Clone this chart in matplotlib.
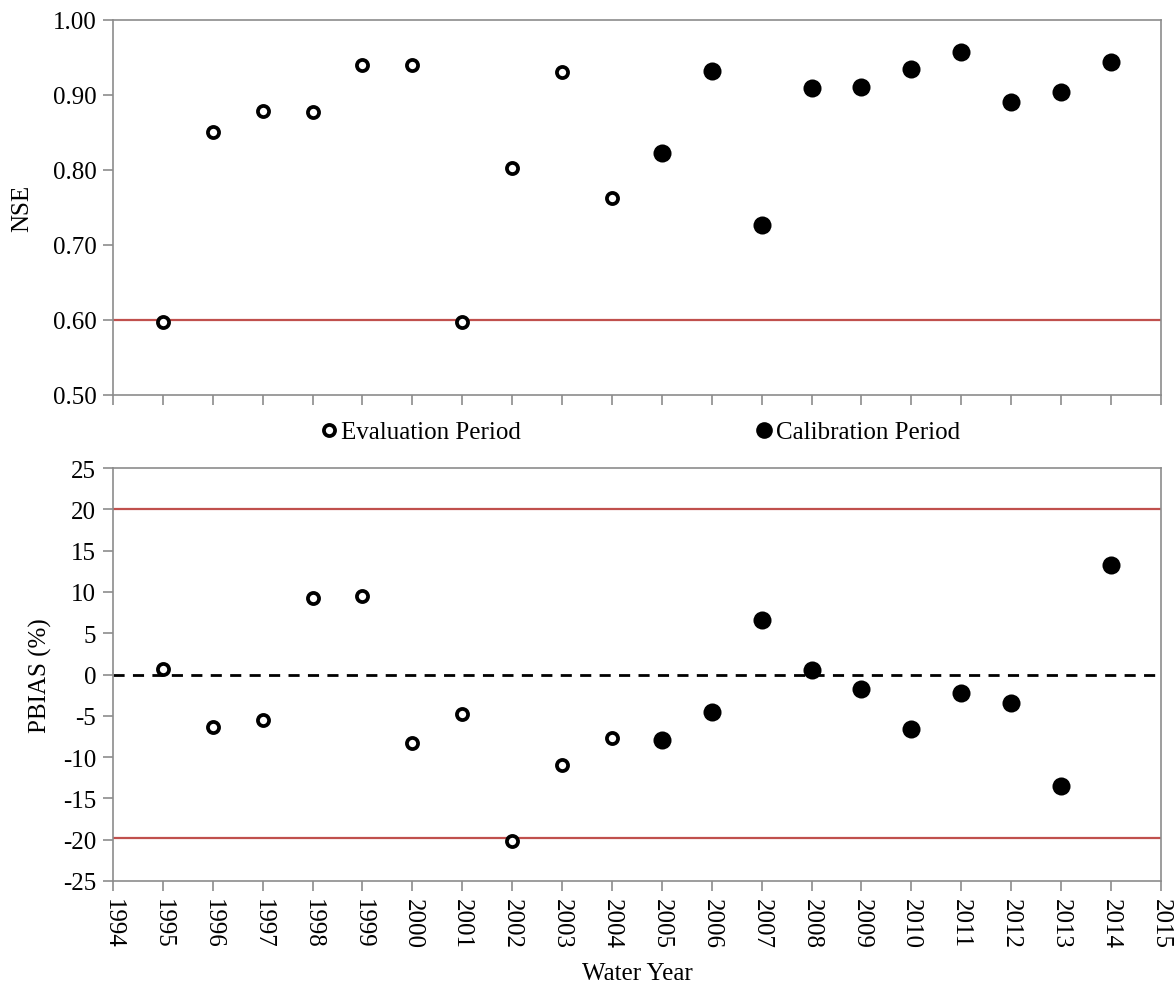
import matplotlib
matplotlib.use('Agg')
import matplotlib.pyplot as plt
from matplotlib.lines import Line2D

plt.rcParams['font.family'] = ['Liberation Serif', 'DejaVu Serif']
plt.rcParams['axes.unicode_minus'] = False

# water years
eval_years = [1995, 1996, 1997, 1998, 1999, 2000, 2001, 2002, 2003, 2004]
cal_years = [2005, 2006, 2007, 2008, 2009, 2010, 2011, 2012, 2013, 2014]

# NSE
nse_eval = [0.597, 0.850, 0.878, 0.877, 0.940, 0.940, 0.597, 0.803, 0.930, 0.762]
nse_cal = [0.823, 0.932, 0.726, 0.909, 0.910, 0.934, 0.957, 0.891, 0.904, 0.944]

# PBIAS (%)
pbias_eval = [0.7, -6.4, -5.5, 9.3, 9.5, -8.3, -4.8, -20.1, -11.0, -7.7]
pbias_cal = [-7.9, -4.5, 6.6, 0.6, -1.8, -6.6, -2.3, -3.5, -13.5, 13.3]

nse_limit = 0.6
pbias_limits = [20, -19.8]

year_ticks = list(range(1994, 2016))

grey = '#8c8c8c'
red = '#c0504d'
fs = 18

fig = plt.figure(figsize=(11.76, 9.87), dpi=100)
ax1 = fig.add_axes([0.0961, 0.5988, 0.891, 0.3802])
ax2 = fig.add_axes([0.0961, 0.1064, 0.891, 0.4184])

open_kw = dict(linestyle='none', marker='o', ms=8, mew=2.7, mfc='white', mec='black')
fill_kw = dict(linestyle='none', marker='o', ms=13, mew=0, mfc='black')

# top: NSE
ax1.axhline(nse_limit, color=red, lw=1.6, zorder=1)
ax1.plot(eval_years, nse_eval, zorder=3, **open_kw)
ax1.plot(cal_years, nse_cal, zorder=3, **fill_kw)
ax1.set_ylim(0.5, 1.0)
ax1.set_yticks([0.5, 0.6, 0.7, 0.8, 0.9, 1.0])
ax1.set_yticklabels(['%.2f' % v for v in [0.5, 0.6, 0.7, 0.8, 0.9, 1.0]])
ax1.set_xlim(1994, 2015)
ax1.set_xticks(year_ticks)
ax1.set_xticklabels([])
ax1.set_ylabel('NSE', fontsize=fs, labelpad=14)

# bottom: PBIAS
for lim in pbias_limits:
    ax2.axhline(lim, color=red, lw=1.6, zorder=1)
ax2.axhline(0, color='black', lw=2, ls=(0, (4, 3)), zorder=2)
ax2.plot(eval_years, pbias_eval, zorder=3, **open_kw)
ax2.plot(cal_years, pbias_cal, zorder=3, **fill_kw)
ax2.set_ylim(-25, 25)
ax2.set_yticks(range(-25, 26, 5))
ax2.set_xlim(1994, 2015)
ax2.set_xticks(year_ticks)
ax2.set_xticklabels([str(y) for y in year_ticks], rotation=270)
ax2.set_ylabel('PBIAS (%)', fontsize=fs, labelpad=8)
ax2.set_xlabel('Water Year', fontsize=fs, labelpad=10)

for ax in (ax1, ax2):
    for s in ax.spines.values():
        s.set_color(grey)
        s.set_linewidth(1.2)
    ax.tick_params(axis='both', direction='out', length=7, width=1.2,
                   color=grey, labelsize=fs, pad=5)

handles = [Line2D([], [], **open_kw), Line2D([], [], **dict(fill_kw, ms=12))]
fig.legend(handles, ['Evaluation Period', 'Calibration Period'],
           loc='center', bbox_to_anchor=(0.545, 1 - 433 / 987), ncol=2,
           frameon=False, fontsize=fs, handlelength=0.6, handletextpad=0.2,
           columnspacing=9.4, borderaxespad=0)

fig.savefig('out.png', dpi=100)
